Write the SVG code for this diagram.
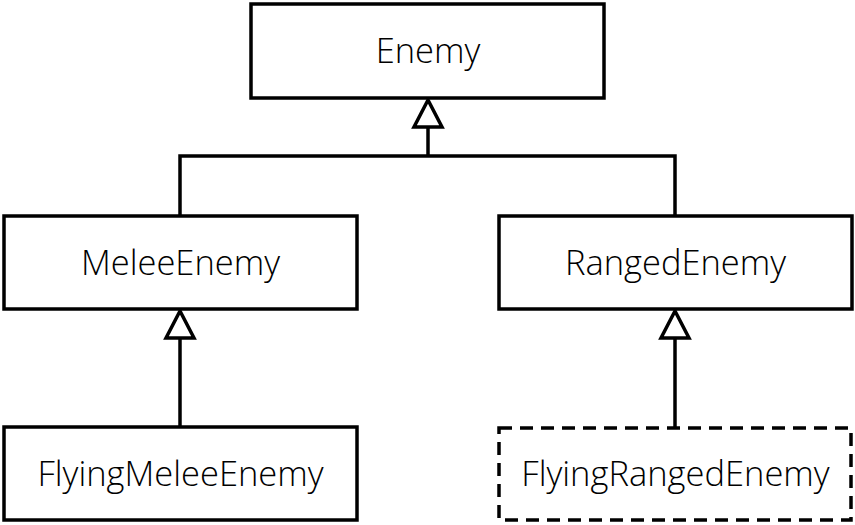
<svg xmlns="http://www.w3.org/2000/svg" width="855" height="525" viewBox="0 0 855 525">
<style>
.box{fill:#fff;stroke:#000;stroke-width:3.5}
.dash{stroke-dasharray:13 8}
.lbl{font-family:"Open Sans","Noto Sans",sans-serif;font-size:34.5px;font-weight:300;fill:#000;text-anchor:middle;dominant-baseline:central}
.ln{fill:none;stroke:#000;stroke-width:3.5}
.tri{fill:#fff;stroke:#000;stroke-width:3.5;stroke-linejoin:miter}
</style>
<rect width="855" height="525" fill="#fff"/>
<g id="connectors">
<polyline class="ln" points="180,215 180,156 675,156 675,215"/>
<line class="ln" x1="428" y1="156" x2="428" y2="127"/>
<polygon class="tri" points="428,100 414,127 442,127"/>
<line class="ln" x1="180" y1="427" x2="180" y2="338"/>
<polygon class="tri" points="180,311 166,338 194,338"/>
<line class="ln" x1="675" y1="427" x2="675" y2="338"/>
<polygon class="tri" points="675,311 661,338 689,338"/>
</g>
<g id="enemy">
<rect class="box" x="251" y="4" width="353" height="94"/>
<text class="lbl" x="428" y="49">Enemy</text>
</g>
<g id="melee">
<rect class="box" x="4" y="216" width="353" height="93"/>
<text class="lbl" x="180.5" y="261">MeleeEnemy</text>
</g>
<g id="ranged">
<rect class="box" x="499" y="216" width="353" height="93"/>
<text class="lbl" x="675.5" y="261">RangedEnemy</text>
</g>
<g id="flyingMelee">
<rect class="box" x="4" y="427" width="353" height="93"/>
<text class="lbl" x="180.5" y="472">FlyingMeleeEnemy</text>
</g>
<g id="flyingRanged">
<rect class="box dash" x="499" y="428" width="352" height="92"/>
<text class="lbl" x="675.5" y="472">FlyingRangedEnemy</text>
</g>
</svg>
